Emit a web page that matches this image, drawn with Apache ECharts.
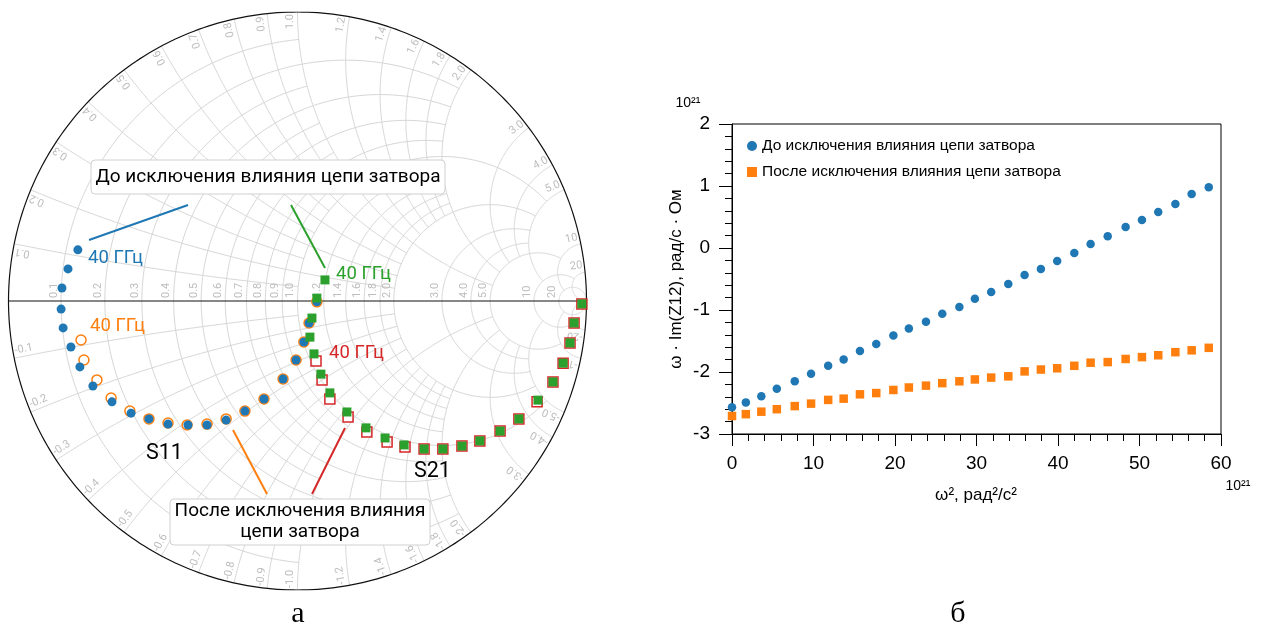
<!DOCTYPE html>
<html>
<head>
<meta charset="utf-8">
<script src="https://cdn.jsdelivr.net/npm/echarts@6/dist/echarts.min.js"></script>
<style>
  html, body { margin: 0; padding: 0; background: #fff; }
  #chart { width: 1268px; height: 628px; }
</style>
</head>
<body>
<div id="chart"></div>
<script>
// ---- panel а: Smith chart, points as [Re Γ, Im Γ], from 40 GHz down to DC ----
const s11Before = [[-0.760,0.177],[-0.794,0.111],[-0.815,0.045],[-0.818,-0.028],[-0.811,-0.093],[-0.784,-0.159],
  [-0.753,-0.228],[-0.708,-0.294],[-0.642,-0.349],[-0.576,-0.388],[-0.514,-0.408],[-0.448,-0.426],[-0.379,-0.429],
  [-0.313,-0.429],[-0.247,-0.412],[-0.182,-0.381],[-0.116,-0.339],[-0.050,-0.270],[-0.005,-0.204],[0.022,-0.142],
  [0.040,-0.076],[0.067,-0.003]];
const s11After = [[-0.749,-0.135],[-0.739,-0.204],[-0.694,-0.273],[-0.645,-0.336],[-0.580,-0.381],[-0.514,-0.408],
  [-0.448,-0.422],[-0.382,-0.429],[-0.313,-0.426],[-0.247,-0.408],[-0.182,-0.381],[-0.116,-0.339],[-0.050,-0.270],
  [-0.005,-0.204],[0.022,-0.142],[0.040,-0.076],[0.067,-0.003]];
const s21Before = [[0.095,0.073],[0.067,0.010],[0.050,-0.059],[0.043,-0.125],[0.057,-0.183],[0.081,-0.253],
  [0.112,-0.318],[0.171,-0.384],[0.237,-0.439],[0.303,-0.474],[0.369,-0.498],[0.438,-0.512],[0.503,-0.512],
  [0.569,-0.502],[0.631,-0.484],[0.701,-0.450],[0.766,-0.408],[0.832,-0.343],[0.884,-0.280],[0.919,-0.215],
  [0.943,-0.145],[0.957,-0.076],[0.984,-0.010]];
const s21After = [[0.064,-0.208],[0.085,-0.273],[0.112,-0.339],[0.175,-0.401],[0.240,-0.453],[0.310,-0.488],
  [0.372,-0.505],[0.438,-0.512],[0.503,-0.512],[0.569,-0.502],[0.631,-0.484],[0.701,-0.450],[0.766,-0.408],
  [0.829,-0.349],[0.884,-0.280],[0.919,-0.215],[0.943,-0.145],[0.957,-0.076],[0.984,-0.010]];

// grid values of the Smith chart and how far each line runs
const smithTicks = [0.1,0.2,0.3,0.4,0.5,0.6,0.7,0.8,0.9,1.0,1.2,1.4,1.6,1.8,2.0,3.0,4.0,5.0,10,20];
const smithTickLabels = ['0.1','0.2','0.3','0.4','0.5','0.6','0.7','0.8','0.9','1.0','1.2','1.4','1.6','1.8','2.0','3.0','4.0','5.0','10','20'];
const resistanceReach = [1,2,1,2,1,2,1,2,1,5,2,2,2,2,5,5,5,10,20,Infinity];
const reactanceReach  = [1,2,1,2,1,2,1,2,1,5,2,2,2,2,5,5,5,10,20,Infinity];

// ---- panel б ----
const omega2 = [0,1.7,3.6,5.5,7.7,9.7,11.8,13.7,15.7,17.7,19.8,21.7,23.8,25.8,27.9,29.8,31.8,33.9,35.9,37.9,
  39.9,42.0,44.0,46.1,48.3,50.3,52.3,54.4,56.4,58.5];
const imBefore = [-2.57,-2.49,-2.39,-2.27,-2.15,-2.03,-1.90,-1.80,-1.66,-1.55,-1.41,-1.30,-1.19,-1.06,-0.95,-0.82,
  -0.71,-0.58,-0.435,-0.34,-0.21,-0.08,0.065,0.19,0.34,0.45,0.58,0.71,0.87,0.98];
const imAfter = [-2.71,-2.68,-2.64,-2.60,-2.55,-2.51,-2.45,-2.43,-2.36,-2.34,-2.29,-2.25,-2.22,-2.18,-2.15,-2.12,
  -2.09,-2.07,-1.99,-1.96,-1.94,-1.90,-1.85,-1.84,-1.79,-1.76,-1.73,-1.68,-1.65,-1.61];
const nameBefore = 'До исключения влияния цепи затвора';
const nameAfter = 'После исключения влияния цепи затвора';

const C = { blue: '#1f77b4', orange: '#ff7f0e', green: '#2ca02c', red: '#d62728' };
const LEFT_FONT = 'Roboto, "DejaVu Sans", sans-serif';
const RIGHT_FONT = '"Liberation Sans", Arial, sans-serif';

// z = r + jx  ->  Γ
function gamma(r, x) {
  const d = (r + 1) * (r + 1) + x * x;
  return [(r * r + x * x - 1) / d, 2 * x / d];
}

function resistancePath(r, xmax) {
  const c = r / (1 + r), rho = 1 / (1 + r);
  let a0 = 0.01;
  if (isFinite(xmax)) { const g = gamma(r, xmax); a0 = Math.atan2(g[1], g[0] - c); }
  const pts = [], n = 240;
  for (let i = 0; i <= n; i++) {
    const a = a0 + (2 * Math.PI - 2 * a0) * i / n;
    pts.push([c + rho * Math.cos(a), rho * Math.sin(a)]);
  }
  return pts;
}

function reactancePath(x, rmax, sign) {
  const cy = 1 / x, rho = 1 / x;
  const ang = g => { let a = Math.atan2(g[1] - cy, g[0] - 1); if (a < 0) a += 2 * Math.PI; return a; };
  const b0 = ang(gamma(0, x));
  const b1 = isFinite(rmax) ? ang(gamma(rmax, x)) : 1.5 * Math.PI - 0.01;
  const pts = [], n = 160;
  for (let i = 0; i <= n; i++) {
    const b = b0 + (b1 - b0) * i / n;
    pts.push([1 + rho * Math.cos(b), sign * (cy + rho * Math.sin(b))]);
  }
  return pts;
}

const gridCurves = [];
smithTicks.forEach((v, i) => {
  gridCurves.push({ coords: resistancePath(v, resistanceReach[i]) });
  gridCurves.push({ coords: reactancePath(v, reactanceReach[i], 1) });
  gridCurves.push({ coords: reactancePath(v, reactanceReach[i], -1) });
});
const rim = [];
for (let i = 0; i <= 360; i++) rim.push([Math.cos(i * Math.PI / 180), Math.sin(i * Math.PI / 180)]);

// labels: along the real axis and round the rim
const smithLabels = [];
smithTicks.forEach((v, i) => {
  smithLabels.push({ pos: [(v - 1) / (v + 1), 0], text: smithTickLabels[i], rot: Math.PI / 2, align: 'left', dx: 3, dy: -1.5 });
  const gp = gamma(0, v);
  smithLabels.push({ pos: gp, text: smithTickLabels[i], rot: Math.atan2(gp[1], gp[0]), align: 'right', dx: -2, dy: -1.5 });
  const gn = gamma(0, -v);
  smithLabels.push({ pos: gn, text: '-' + smithTickLabels[i], rot: Math.atan2(gn[1], gn[0]) + Math.PI, align: 'left', dx: 2, dy: -1.5 });
});

const chart = echarts.init(document.getElementById('chart'));

const smithScatter = (name, data, symbol, size, fill, border) => ({
  name, type: 'scatter', xAxisIndex: 0, yAxisIndex: 0, data, symbol, symbolSize: size,
  itemStyle: { color: fill, borderColor: border, borderWidth: border ? 1.5 : 0, opacity: 1 },
  z: 5
});

chart.setOption({
  animation: false,
  backgroundColor: '#fff',
  grid: [
    { left: 8.5, top: 12, width: 578, height: 578 },
    { left: 732, top: 124, width: 489, height: 310, show: true, borderColor: '#000', borderWidth: 1 }
  ],
  xAxis: [
    { gridIndex: 0, type: 'value', min: -1, max: 1, show: false },
    {
      gridIndex: 1, type: 'value', min: 0, max: 60, interval: 10,
      axisLine: { show: true, onZero: false, lineStyle: { color: '#000', width: 1 } },
      axisTick: { show: true, length: 12, lineStyle: { color: '#000' } },
      minorTick: { show: true, splitNumber: 5, length: 7, lineStyle: { color: '#000' } },
      splitLine: { show: false },
      axisLabel: { fontFamily: RIGHT_FONT, fontSize: 19, color: '#000', margin: 20 }
    }
  ],
  yAxis: [
    { gridIndex: 0, type: 'value', min: -1, max: 1, show: false },
    {
      gridIndex: 1, type: 'value', min: -3, max: 2, interval: 1,
      axisLine: { show: true, onZero: false, lineStyle: { color: '#000', width: 1 } },
      axisTick: { show: true, length: 13, lineStyle: { color: '#000' } },
      minorTick: { show: true, splitNumber: 5, length: 7, lineStyle: { color: '#000' } },
      splitLine: { show: false },
      axisLabel: { fontFamily: RIGHT_FONT, fontSize: 19, color: '#000', margin: 22 }
    }
  ],
  legend: {
    data: [nameBefore, nameAfter], orient: 'vertical', left: 747, top: 138, padding: 0,
    itemWidth: 10, itemHeight: 10, itemGap: 10,
    textStyle: { fontFamily: RIGHT_FONT, fontSize: 15.5, color: '#000', lineHeight: 15 }
  },
  series: [
    {
      type: 'lines', coordinateSystem: 'cartesian2d', xAxisIndex: 0, yAxisIndex: 0, polyline: true, silent: true,
      data: gridCurves, lineStyle: { color: '#d6d6d6', width: 1, opacity: 1 }, z: 1
    },
    {
      type: 'custom', coordinateSystem: 'cartesian2d', xAxisIndex: 0, yAxisIndex: 0, silent: true, z: 2,
      data: smithLabels.map(l => l.pos),
      renderItem: function (params, api) {
        const l = smithLabels[params.dataIndex];
        const p = api.coord([api.value(0), api.value(1)]);
        const th = l.rot;
        const x = p[0] + Math.cos(th) * l.dx + Math.sin(th) * l.dy;
        const y = p[1] - Math.sin(th) * l.dx + Math.cos(th) * l.dy;
        return {
          type: 'text', x, y, rotation: th,
          style: { text: l.text, fill: '#bdbdbd', fontSize: 11, fontFamily: LEFT_FONT, align: l.align, verticalAlign: 'bottom' }
        };
      }
    },
    {
      type: 'lines', coordinateSystem: 'cartesian2d', xAxisIndex: 0, yAxisIndex: 0, polyline: true, silent: true,
      data: [{ coords: rim }, { coords: [[-1, 0], [1, 0]] }],
      lineStyle: { color: '#111', width: 1.2, opacity: 1 }, z: 3
    },
    smithScatter('s11a', s11After, 'circle', 10, 'rgba(0,0,0,0)', C.orange),
    smithScatter('s11b', s11Before, 'circle', 9, C.blue, null),
    smithScatter('s21a', s21After, 'rect', 10, 'rgba(0,0,0,0)', C.red),
    smithScatter('s21b', s21Before, 'rect', 9, C.green, null),
    {
      name: nameBefore, type: 'scatter', xAxisIndex: 1, yAxisIndex: 1, symbol: 'circle', symbolSize: 8.5,
      data: omega2.map((v, i) => [v, imBefore[i]]), itemStyle: { color: C.blue, opacity: 1 }
    },
    {
      name: nameAfter, type: 'scatter', xAxisIndex: 1, yAxisIndex: 1, symbol: 'rect', symbolSize: 8.5,
      data: omega2.map((v, i) => [v, imAfter[i]]), itemStyle: { color: C.orange, opacity: 1 }
    }
  ],
  graphic: [
    { type: 'line', z: 100, shape: { x1: 89, y1: 240, x2: 188, y2: 205 }, style: { stroke: C.blue, lineWidth: 2 } },
    { type: 'line', z: 100, shape: { x1: 291, y1: 205, x2: 325, y2: 268 }, style: { stroke: C.green, lineWidth: 2 } },
    { type: 'line', z: 100, shape: { x1: 233, y1: 430, x2: 267, y2: 494 }, style: { stroke: C.orange, lineWidth: 2 } },
    { type: 'line', z: 100, shape: { x1: 345, y1: 428, x2: 312, y2: 494 }, style: { stroke: C.red, lineWidth: 2 } },
    { type: 'rect', z: 100, shape: { x: 91, y: 160, width: 354, height: 34, r: 4 }, style: { fill: '#fff', stroke: '#d0d0d0', lineWidth: 1 } },
    { type: 'text', z: 101, x: 268, y: 177, style: { text: nameBefore, fontFamily: LEFT_FONT, fontSize: 19, fill: '#000', align: 'center', verticalAlign: 'middle' } },
    { type: 'rect', z: 100, shape: { x: 170, y: 499, width: 260, height: 46, r: 4 }, style: { fill: '#fff', stroke: '#d0d0d0', lineWidth: 1 } },
    { type: 'text', z: 101, x: 300, y: 522, style: { text: 'После исключения влияния\nцепи затвора', fontFamily: LEFT_FONT, fontSize: 19, lineHeight: 21, fill: '#000', align: 'center', verticalAlign: 'middle' } },
    { type: 'text', z: 101, x: 88, y: 258, style: { text: '40 ГГц', fontFamily: LEFT_FONT, fontSize: 18.5, fill: C.blue, verticalAlign: 'middle' } },
    { type: 'text', z: 101, x: 336, y: 274, style: { text: '40 ГГц', fontFamily: LEFT_FONT, fontSize: 18.5, fill: C.green, verticalAlign: 'middle' } },
    { type: 'text', z: 101, x: 90, y: 326, style: { text: '40 ГГц', fontFamily: LEFT_FONT, fontSize: 18.5, fill: C.orange, verticalAlign: 'middle' } },
    { type: 'text', z: 101, x: 329, y: 353, style: { text: '40 ГГц', fontFamily: LEFT_FONT, fontSize: 18.5, fill: C.red, verticalAlign: 'middle' } },
    { type: 'text', z: 101, x: 146, y: 454, style: { text: 'S11', fontFamily: LEFT_FONT, fontSize: 21.5, fill: '#000', verticalAlign: 'middle' } },
    { type: 'text', z: 101, x: 414, y: 472, style: { text: 'S21', fontFamily: LEFT_FONT, fontSize: 21.5, fill: '#000', verticalAlign: 'middle' } },
    { type: 'text', z: 101, x: 298, y: 614, style: { text: 'а', fontFamily: '"Liberation Serif", serif', fontSize: 30, fill: '#000', align: 'center', verticalAlign: 'middle' } },
    { type: 'text', z: 101, x: 958, y: 614, style: { text: 'б', fontFamily: '"Liberation Serif", serif', fontSize: 30, fill: '#000', align: 'center', verticalAlign: 'middle' } },
    { type: 'text', z: 101, x: 688, y: 103, style: { text: '10²¹', fontFamily: RIGHT_FONT, fontSize: 14, fill: '#000', align: 'center', verticalAlign: 'middle' } },
    { type: 'text', z: 101, x: 1238, y: 486, style: { text: '10²¹', fontFamily: RIGHT_FONT, fontSize: 14, fill: '#000', align: 'center', verticalAlign: 'middle' } },
    { type: 'text', z: 101, x: 676, y: 279, rotation: Math.PI / 2, style: { text: 'ω · Im(Z12), рад/с · Ом', fontFamily: RIGHT_FONT, fontSize: 17, fill: '#000', align: 'center', verticalAlign: 'middle' } },
    { type: 'text', z: 101, x: 976, y: 495, style: { text: 'ω², рад²/с²', fontFamily: RIGHT_FONT, fontSize: 17, fill: '#000', align: 'center', verticalAlign: 'middle' } }
  ]
});
</script>
</body>
</html>
